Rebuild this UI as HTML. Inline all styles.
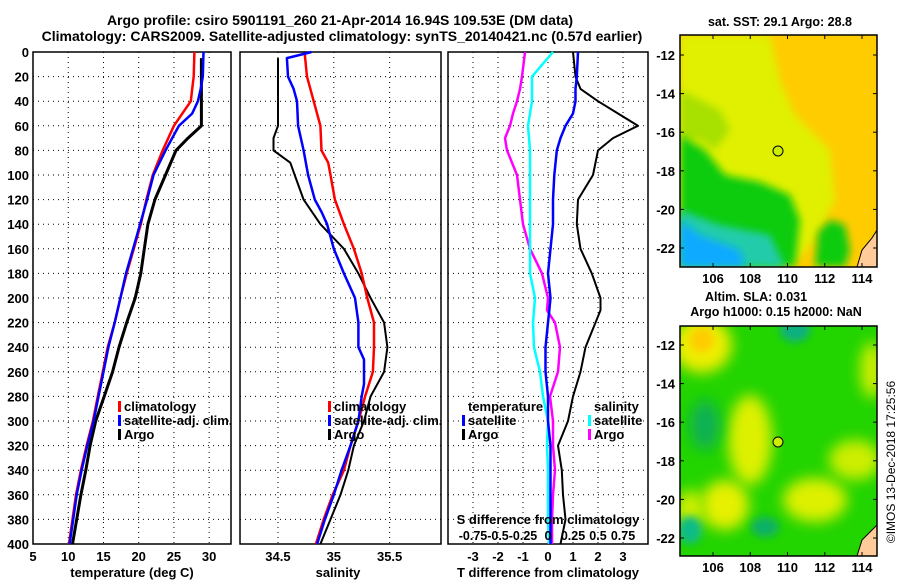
<!DOCTYPE html>
<html><head><meta charset="utf-8"><style>
body{margin:0;background:#fff}
svg{display:block;font-family:"Liberation Sans",sans-serif;font-weight:bold}
</style></head><body>
<svg id="c" width="900" height="580" viewBox="0 0 900 580" xmlns="http://www.w3.org/2000/svg">
<defs>
<filter id="bl" x="-50%" y="-50%" width="200%" height="200%"><feGaussianBlur stdDeviation="7"/></filter>
<filter id="bl2" x="-50%" y="-50%" width="200%" height="200%"><feGaussianBlur stdDeviation="4"/></filter>
<clipPath id="m1"><rect x="680" y="35" width="197" height="232"/></clipPath>
<clipPath id="m2"><rect x="680" y="326" width="197" height="230"/></clipPath>
</defs>
<text x="340" y="25" text-anchor="middle" font-size="14">Argo profile: csiro 5901191_260 21-Apr-2014 16.94S 109.53E (DM data)</text>
<text x="342" y="41" text-anchor="middle" font-size="14">Climatology: CARS2009. Satellite-adjusted climatology: synTS_20140421.nc (0.57d earlier)</text>

<g>
<g clip-path="url(#m1)">
<rect x="680" y="35" width="197" height="232" fill="#ffcc00"/>
<path d="M680 35 L770 35 L780 80 L795 115 L830 150 L835 200 L815 240 L790 267 L680 267Z" fill="#e0f000" filter="url(#bl2)"/>
<path d="M680 90 L700 100 L720 110 L730 130 L715 150 L700 140 L680 140Z" fill="#a8e000" filter="url(#bl2)"/>
<path d="M680 135 L705 150 L725 175 L760 182 L790 195 L800 220 L795 267 L680 267Z" fill="#11cc11" filter="url(#bl2)"/>
<path d="M680 210 L720 225 L770 235 L785 267 L680 267Z" fill="#22ccaa" filter="url(#bl2)"/>
<path d="M680 220 L700 235 L740 250 L745 267 L680 267Z" fill="#11aaff" filter="url(#bl2)"/>
<path d="M818 232 L830 220 L845 225 L850 250 L845 267 L815 267Z" fill="#11cc11" filter="url(#bl2)"/>
<path d="M857 267 L862 250 L872 238 L877 230 L877 267Z" fill="#ffcc99" stroke="#000" stroke-width="1"/>
</g>
<rect x="680" y="35" width="197" height="232" fill="none" stroke="#000" stroke-width="1.5"/>
<circle cx="778" cy="151" r="5" fill="#ccee00" stroke="#000"/>
<text x="780" y="26" text-anchor="middle" font-size="12.5">sat. SST: 29.1 Argo: 28.8</text>
</g>

<g>
<g clip-path="url(#m2)">
<rect x="680" y="326" width="197" height="230" fill="#22d400"/>
<ellipse cx="702" cy="345" rx="30" ry="28" fill="#eeee00" filter="url(#bl)"/>
<ellipse cx="702" cy="340" rx="12" ry="12" fill="#ffcc00" filter="url(#bl2)"/>
<ellipse cx="750" cy="440" rx="22" ry="45" fill="#ddf000" filter="url(#bl)"/>
<ellipse cx="725" cy="505" rx="24" ry="25" fill="#e6f000" filter="url(#bl)"/>
<ellipse cx="815" cy="500" rx="32" ry="22" fill="#ddf000" filter="url(#bl)"/>
<ellipse cx="855" cy="460" rx="26" ry="20" fill="#ccee00" filter="url(#bl)"/>
<ellipse cx="872" cy="370" rx="12" ry="28" fill="#ccee00" filter="url(#bl)"/>
<ellipse cx="690" cy="510" rx="15" ry="20" fill="#ccee00" filter="url(#bl)"/>
<ellipse cx="705" cy="425" rx="15" ry="25" fill="#11b055" filter="url(#bl)"/>
<ellipse cx="795" cy="330" rx="15" ry="12" fill="#11b080" filter="url(#bl2)"/>
<ellipse cx="765" cy="527" rx="14" ry="10" fill="#11b066" filter="url(#bl2)"/>
<ellipse cx="690" cy="530" rx="12" ry="14" fill="#11bb88" filter="url(#bl2)"/>
<path d="M857 556 L862 540 L872 530 L877 525 L877 556Z" fill="#ffcc99" stroke="#000" stroke-width="1"/>
</g>
<rect x="680" y="326" width="197" height="230" fill="none" stroke="#000" stroke-width="1.5"/>
<circle cx="778" cy="442" r="5" fill="#ccee00" stroke="#000"/>
<text x="756" y="301" text-anchor="middle" font-size="12.5">Altim. SLA: 0.031</text>
<text x="776" y="316" text-anchor="middle" font-size="12.5">Argo h1000: 0.15 h2000: NaN</text>
</g>
<text transform="translate(895,462) rotate(-90)" text-anchor="middle" font-size="12" font-weight="normal">©IMOS 13-Dec-2018 17:25:56</text>
</svg>
<script>
const depT=[0,20,30,40,60,80,100,120,140,160,180,200,220,240,260,280,300,320,340,360,380,400];
const tClim=[27.9,27.8,27.6,27.4,25.0,23.4,22.0,21.1,20.3,19.3,18.3,17.4,16.6,15.6,14.9,14.2,13.5,12.6,11.8,11.1,10.6,10.1];
const depSat=[0,20,30,40,50,60,80,100,120,140,160,180,200,220,240,260,280,300,320,340,360,380,400];
const tSat=[29.2,29.1,28.8,28.4,27.6,25.7,23.8,22.1,21.2,20.2,19.2,18.2,17.4,16.6,15.7,15.0,14.3,13.6,12.7,11.9,11.2,10.7,10.2];
const depArgo=[5,60,70,80,100,120,140,160,180,200,220,240,260,280,300,320,340,360,380,400];
const tArgo=[28.9,28.9,27.0,25.3,23.8,22.3,21.3,20.8,20.3,19.5,18.3,17.2,16.3,15.1,13.9,13.1,12.5,11.8,11.2,10.6];
const depS=[2,20,40,60,80,90,100,120,140,160,180,200,220,240,260,280,300,320,340,360,380,400];
const sClim=[34.74,34.76,34.82,34.88,34.89,34.95,34.97,35.01,35.09,35.18,35.25,35.30,35.36,35.36,35.35,35.28,35.22,35.15,35.09,34.99,34.91,34.84];
const depSSat=[0,5,20,30,40,60,80,100,120,130,140,160,180,200,220,240,250,270,280,300,320,340,360,380,400];
const sSat=[34.80,34.58,34.59,34.64,34.67,34.68,34.73,34.77,34.83,34.89,34.94,35.00,35.09,35.19,35.22,35.22,35.27,35.27,35.25,35.22,35.15,35.07,35.00,34.92,34.85];
const depSArgo=[5,60,70,80,90,100,120,140,160,180,200,220,240,260,280,300,320,340,360,380,400];
const sArgo=[34.50,34.50,34.46,34.46,34.61,34.65,34.73,34.88,35.09,35.22,35.33,35.45,35.48,35.45,35.33,35.27,35.18,35.13,35.06,34.97,34.88];
const depD=[0,20,30,40,50,60,70,80,100,120,140,160,180,200,210,220,240,260,280,300,320,340,360,380,400];
const dTSat=[1.2,1.15,1.1,1.1,1.0,0.7,0.5,0.35,0.25,0.2,0.2,0.1,0.0,0.1,0.05,0.0,-0.1,-0.1,0.0,0.0,0.1,0.1,0.1,0.1,0.1];
const dTArgo=[1.0,1.1,1.3,2.0,2.8,3.6,2.6,2.0,1.8,1.2,1.15,1.3,1.75,2.1,2.1,1.9,1.5,1.3,1.0,0.8,0.4,0.55,0.6,0.7,0.5];
const dSArgo=[-0.23,-0.26,-0.28,-0.31,-0.35,-0.38,-0.43,-0.41,-0.31,-0.28,-0.25,-0.18,-0.06,0.0,-0.01,0.07,0.12,0.10,0.02,0.05,0.05,0.07,0.05,0.04,0.04];
const dSSat=[0.05,-0.16,-0.16,-0.16,-0.18,-0.2,-0.19,-0.18,-0.18,-0.18,-0.18,-0.18,-0.18,-0.13,-0.14,-0.15,-0.14,-0.08,-0.05,0.0,-0.01,0.0,0.0,0.0,0.01];
const depthTicks=[0,20,40,60,80,100,120,140,160,180,200,220,240,260,280,300,320,340,360,380,400];
const tTicks=[5,10,15,20,25,30];
const sTicks=[34.5,35,35.5];
const dTTicks=[-3,-2,-1,0,1,2,3];
const dSTickLabels=["-0.75","-0.5","-0.25","0","0.25","0.5","0.75"];
const lonTicks=[106,108,110,112,114];
const latTicks=[-12,-14,-16,-18,-20,-22];

const NS="http://www.w3.org/2000/svg";
const svg=document.getElementById('c');
function mk(tag,a,parent){const e=document.createElementNS(NS,tag);for(const k in a)e.setAttribute(k,a[k]);(parent||svg).appendChild(e);return e;}
const Y0=52,Y1=544;
const yD=d=>Y0+(d/400)*(Y1-Y0);
function scale(d0,d1,p0,p1){return v=>p0+(v-d0)/(d1-d0)*(p1-p0);}
const panels=[
 {x0:33,x1:231,sx:scale(5,33.1,33,231),name:'temperature-panel'},
 {x0:240,x1:441,sx:scale(34.16,35.96,240,441),name:'salinity-panel'},
 {x0:448,x1:648,sx:scale(-4,4,448,648),name:'difference-panel'}];
const ticksPer=[tTicks,sTicks,dTTicks];
panels.forEach((p,i)=>{
 const g=mk('g',{});
 
 
 p.g=g;
 depthTicks.forEach(d=>{if(d>0&&d<400){const l=mk('line',{x1:p.x0,x2:p.x1,y1:yD(d),y2:yD(d),stroke:'#000','stroke-width':1,'stroke-dasharray':'1,4'},g);
  
  }});
 ticksPer[i].forEach(t=>{const x=p.sx(t);if(x>p.x0+1&&x<p.x1-1){const l=mk('line',{x1:x,x2:x,y1:Y0,y2:Y1,stroke:'#000','stroke-width':1,'stroke-dasharray':'1,4'},g);
  
  }
  const tx=mk('text',{x:x,y:561,'text-anchor':'middle','font-size':13},g);tx.textContent=String(t);
  
  });
 const r=mk('rect',{x:p.x0,y:Y0,width:p.x1-p.x0,height:Y1-Y0,fill:'none',stroke:'#000','stroke-width':1.5},g);
 
 
});
depthTicks.forEach(d=>{const t=mk('text',{x:29,y:yD(d)+5,'text-anchor':'end','font-size':13});t.textContent=String(d);
 
 });
function line(p,xs,ds,col,w,name,fx){const pts=xs.map((v,i)=>(fx?fx(v):p.sx(v)).toFixed(1)+','+yD(ds[i]).toFixed(1)).join(' ');
 const e=mk('polyline',{points:pts,fill:'none',stroke:col,'stroke-width':w,'stroke-linejoin':'round'},p.g);
 
 }
const P=panels;
line(P[0],tArgo,depArgo,'#000',3,'temperature-argo-line');
line(P[0],tClim,depT,'#f00',2.5,'temperature-climatology-line');
line(P[0],tSat,depSat,'#00f',2.5,'temperature-satellite-line');
line(P[1],sArgo,depSArgo,'#000',2,'salinity-argo-line');
line(P[1],sClim,depS,'#f00',2.5,'salinity-climatology-line');
line(P[1],sSat,depSSat,'#00f',2.5,'salinity-satellite-line');
const sScale=v=>P[2].sx(v*4);
line(P[2],dSArgo,depD,'#f0f',2.5,'salinity-argo-diff-line',sScale);
line(P[2],dSSat,depD,'#0ff',2.5,'salinity-satellite-diff-line',sScale);
line(P[2],dTArgo,depD,'#000',2,'temperature-argo-diff-line');
line(P[2],dTSat,depD,'#00f',2.5,'temperature-satellite-diff-line');
function txt(x,y,s,name,size,anchor){const t=mk('text',{x:x,y:y,'font-size':size||13,'text-anchor':anchor||'start'});t.textContent=s;
 
 return t;}
function leg(x,y,col,s,name){const r=mk('rect',{x:x,y:y-10,width:3,height:11,fill:col});
 
 
 txt(x+6,y,s,name);}
leg(118,411,'#f00','climatology','legend-climatology');
leg(118,425,'#00f','satellite-adj. clim.','legend-satellite-adj');
leg(118,439,'#000','Argo','legend-argo');
leg(328,411,'#f00','climatology','legend-salinity-climatology');
leg(328,425,'#00f','satellite-adj. clim.','legend-salinity-satellite-adj');
leg(328,439,'#000','Argo','legend-salinity-argo');
txt(468,411,'temperature','legend-temperature-heading');
leg(462,425,'#00f','satellite','legend-temp-satellite');
leg(462,439,'#000','Argo','legend-temp-argo');
txt(594,411,'salinity','legend-salinity-heading');
leg(588,425,'#0ff','satellite','legend-sal-satellite');
leg(588,439,'#f0f','Argo','legend-sal-argo');
txt(548,524,'S difference from climatology','s-diff-axis-title',13,'middle');
dTTicks.forEach((t,i)=>txt(P[2].sx(t),540,dSTickLabels[i],'s-diff-tick-label',12.5,'middle'));
txt(132,577,'temperature (deg C)','temperature-axis-title',13,'middle');
txt(338,577,'salinity','salinity-axis-title',13,'middle');
txt(548,577,'T difference from climatology','t-diff-axis-title',13,'middle');
const lonX=scale(106,114,713,862);
[[35,267,scale(-12,-22,55,248)],[326,556,scale(-12,-22,345,538)]].forEach(([top,bot,ly])=>{
 lonTicks.forEach(l=>{const x=lonX(l);
  mk('line',{x1:x,x2:x,y1:top,y2:top+4,stroke:'#000'});mk('line',{x1:x,x2:x,y1:bot,y2:bot-4,stroke:'#000'});
  txt(x,bot+16,String(l),'map-lon-tick-label',13,'middle');});
 latTicks.forEach(l=>{const y=ly(l);
  mk('line',{x1:680,x2:684,y1:y,y2:y,stroke:'#000'});mk('line',{x1:877,x2:873,y1:y,y2:y,stroke:'#000'});
  txt(675,y+5,String(l),'map-lat-tick-label',13,'end');});
});
</script>
</body></html>
